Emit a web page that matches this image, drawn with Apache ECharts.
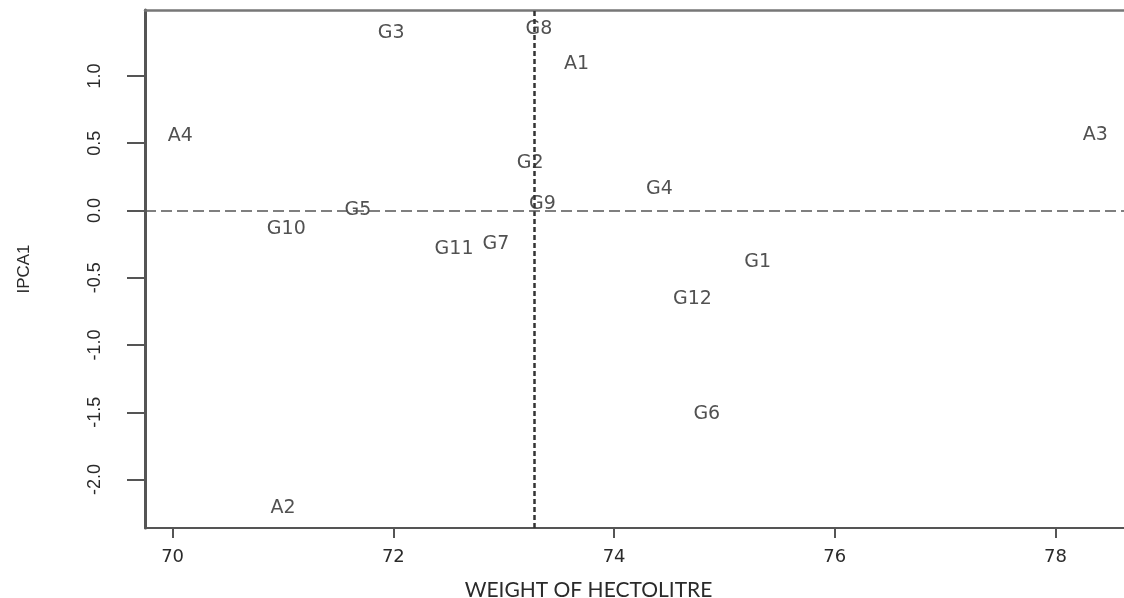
<!DOCTYPE html>
<html>
<head>
<meta charset="utf-8">
<script src="https://cdn.jsdelivr.net/npm/echarts@6/dist/echarts.min.js"></script>
<style>
html,body{margin:0;padding:0;background:#fff;}
#chart{width:1124px;height:598px;}
</style>
</head>
<body>
<div id="chart"></div>
<script>
// Labels of genotypes (G) and environments (A)
var names = ['G1','G2','G3','G4','G5','G6','G7','G8','G9','G10','G11','G12','A1','A2','A3','A4'];
// Weight of hectolitre (x) and IPCA1 score (y)
var weightHL = [75.30, 73.24, 71.98, 74.41, 71.68, 74.84, 72.93, 73.32, 73.35, 71.03, 72.55, 74.71, 73.66, 71.00, 78.36, 70.07];
var ipca1    = [-0.386, 0.35, 1.315, 0.156, 0.0, -1.51, -0.25, 1.345, 0.05, -0.14, -0.29, -0.66, 1.09, -2.21, 0.56, 0.55];
// Reference lines: grand mean of x and zero IPCA
var meanX = 73.28;
var zeroY = 0;
// Tick values
var xTicks = [70, 72, 74, 76, 78];
var yTicks = [-2.0, -1.5, -1.0, -0.5, 0.0, 0.5, 1.0];

var points = names.map(function (n, i) { return [weightHL[i], ipca1[i], n]; });

var chart = echarts.init(document.getElementById('chart'));
chart.setOption({
  animation: false,
  backgroundColor: '#ffffff',
  grid: { left: 145, top: 10, bottom: 70, right: 0, show: false, containLabel: false, outerBoundsMode: 'none' },
  xAxis: [{
    type: 'value',
    min: 69.75, max: 78.62,
    name: 'WEIGHT OF HECTOLITRE',
    nameLocation: 'middle',
    nameGap: 52,
    nameTextStyle: { fontFamily: 'Lato', fontSize: 21, color: '#2a2a2a', padding: [0, 92, 0, 0] },
    splitLine: { show: false },
    axisLine: { show: true, onZero: false, lineStyle: { color: '#555', width: 2 } },
    axisTick: { show: true, customValues: xTicks, length: 10, lineStyle: { color: '#555', width: 2 } },
    axisLabel: {
      customValues: xTicks, margin: 20,
      fontFamily: 'DejaVu Sans', fontSize: 18, color: '#2a2a2a',
      formatter: function (v) { return String(v); }
    }
  }, {
    type: 'value',
    position: 'top',
    min: 69.75, max: 78.62,
    splitLine: { show: false },
    axisLine: { show: true, onZero: false, lineStyle: { color: '#777', width: 2.5 } },
    axisTick: { show: false },
    axisLabel: { show: false }
  }],
  yAxis: {
    type: 'value',
    min: -2.36, max: 1.49,
    name: 'IPCA1',
    nameLocation: 'middle',
    nameGap: 112,
    nameTextStyle: { fontFamily: 'Liberation Sans', fontSize: 17, color: '#2a2a2a' },
    splitLine: { show: false },
    axisLine: { show: true, onZero: false, lineStyle: { color: '#555', width: 3 } },
    axisTick: { show: true, customValues: yTicks, length: 18, lineStyle: { color: '#555', width: 2 } },
    axisLabel: {
      customValues: yTicks, margin: 41, rotate: 90,
      fontFamily: 'Liberation Sans', fontSize: 18, color: '#2a2a2a',
      formatter: function (v) { return v.toFixed(1); }
    }
  },
  series: [{
    type: 'scatter',
    xAxisIndex: 0,
    data: points,
    symbolSize: 1,
    itemStyle: { color: 'rgba(0,0,0,0)' },
    label: {
      show: true, position: 'inside',
      fontFamily: 'DejaVu Sans', fontSize: 19, color: '#262626',
      formatter: function (p) { return p.data[2]; }
    },
    markLine: {
      silent: true,
      symbol: ['none', 'none'],
      label: { show: false },
      data: [
        { xAxis: meanX, lineStyle: { type: [5, 3], width: 2.5, color: '#333' } },
        { yAxis: zeroY, lineStyle: { type: [11, 5], width: 1.5, color: '#555' } }
      ]
    },
    z: 3
  }]
});
</script>
</body>
</html>
